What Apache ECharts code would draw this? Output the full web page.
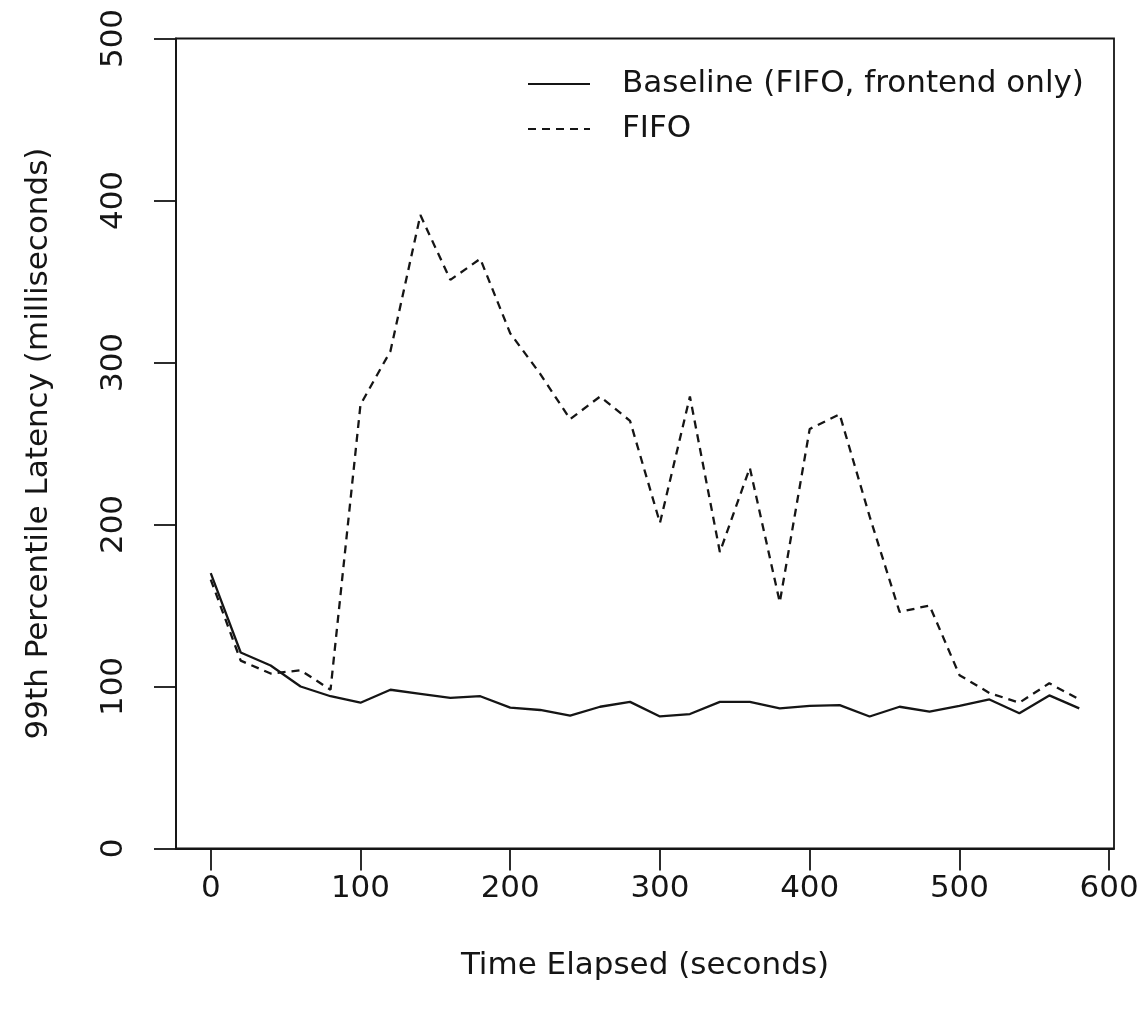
<!DOCTYPE html>
<html>
<head>
    <meta charset="utf-8"/>
    <title>99th Percentile Latency</title>
    <script src="https://cdn.jsdelivr.net/npm/echarts@6/dist/echarts.min.js"></script>
</head>
<body style="margin:0;background:#fff">
<div id="main" style="width: 1142px; height: 1021px;"></div>
<script type="text/javascript">
    // time elapsed (seconds)
    var timeSec = [0, 20, 40, 60, 80, 100, 120, 140, 160, 180, 200, 220, 240, 260, 280,
        300, 320, 340, 360, 380, 400, 420, 440, 460, 480, 500, 520, 540, 560, 580];
    // 99th percentile latency (ms)
    var baseline = [170, 121, 113, 100, 94, 90, 98, 95.5, 93, 94, 87, 85.5, 82, 87.5, 90.5,
        81.5, 83, 90.5, 90.5, 86.5, 88, 88.5, 81.5, 87.5, 84.5, 88, 92, 83.5, 94.5, 86.5];
    var fifo = [166, 116, 108, 110, 98, 274, 307, 391, 351, 364, 318, 293, 265, 279, 264,
        201, 279, 183, 235, 152, 259, 268, 205, 146, 150, 107, 96, 90, 102, 92];
    var xTicks = [0, 100, 200, 300, 400, 500, 600];
    var seriesNames = ['Baseline (FIFO, frontend only)', 'FIFO'];

    function pairs(ys) {
        return timeSec.map(function (t, i) {
            return [t, ys[i]];
        });
    }

    var chart = echarts.init(document.getElementById('main'));
    var font = 'DejaVu Sans';
    var ink = '#151515';
    var fs = 31;

    var option = {
        backgroundColor: '#ffffff',
        animation: false,
        textStyle: {fontFamily: font, color: ink},
        grid: {
            left: 176, top: 38.5, right: 28, bottom: 172.5,
            show: true, borderColor: ink, borderWidth: 1.8
        },
        legend: {
            orient: 'vertical',
            left: 522,
            top: 61,
            itemWidth: 62,
            itemHeight: 14,
            itemGap: 9,
            data: seriesNames,
            itemStyle: {opacity: 0},
            textStyle: {
                fontFamily: font, fontSize: fs, color: ink,
                lineHeight: 36, padding: [0, 0, 0, 27]
            }
        },
        xAxis: {
            type: 'value',
            min: -23.2,
            max: 603.2,
            name: 'Time Elapsed (seconds)',
            nameLocation: 'middle',
            nameGap: 102,
            nameTextStyle: {fontFamily: font, fontSize: fs, color: ink},
            splitLine: {show: false},
            axisLine: {show: true, onZero: false, lineStyle: {color: ink, width: 1.8}},
            axisTick: {
                show: true, length: 22, inside: false,
                customValues: xTicks,
                lineStyle: {color: ink, width: 1.8}
            },
            axisLabel: {
                customValues: xTicks,
                margin: 25,
                fontFamily: font, fontSize: fs, color: ink
            }
        },
        yAxis: {
            type: 'value',
            min: 0,
            max: 500,
            interval: 100,
            name: '99th Percentile Latency (milliseconds)',
            nameLocation: 'middle',
            nameGap: 122,
            nameTextStyle: {fontFamily: font, fontSize: fs, color: ink},
            splitLine: {show: false},
            axisLine: {show: true, onZero: false, lineStyle: {color: ink, width: 1.8}},
            axisTick: {show: true, length: 22, inside: false, lineStyle: {color: ink, width: 1.8}},
            axisLabel: {
                rotate: 90,
                margin: 47,
                showMinLabel: true,
                showMaxLabel: true,
                fontFamily: font, fontSize: fs, color: ink
            }
        },
        series: [
            {
                name: seriesNames[0],
                type: 'line',
                symbol: 'none',
                data: pairs(baseline),
                lineStyle: {color: ink, width: 2.3, type: 'solid'},
                itemStyle: {color: ink}
            },
            {
                name: seriesNames[1],
                type: 'line',
                symbol: 'none',
                data: pairs(fifo),
                lineStyle: {color: ink, width: 2.3, type: [8, 6]},
                itemStyle: {color: ink}
            }
        ]
    };

    chart.setOption(option);
</script>
</body>
</html>
